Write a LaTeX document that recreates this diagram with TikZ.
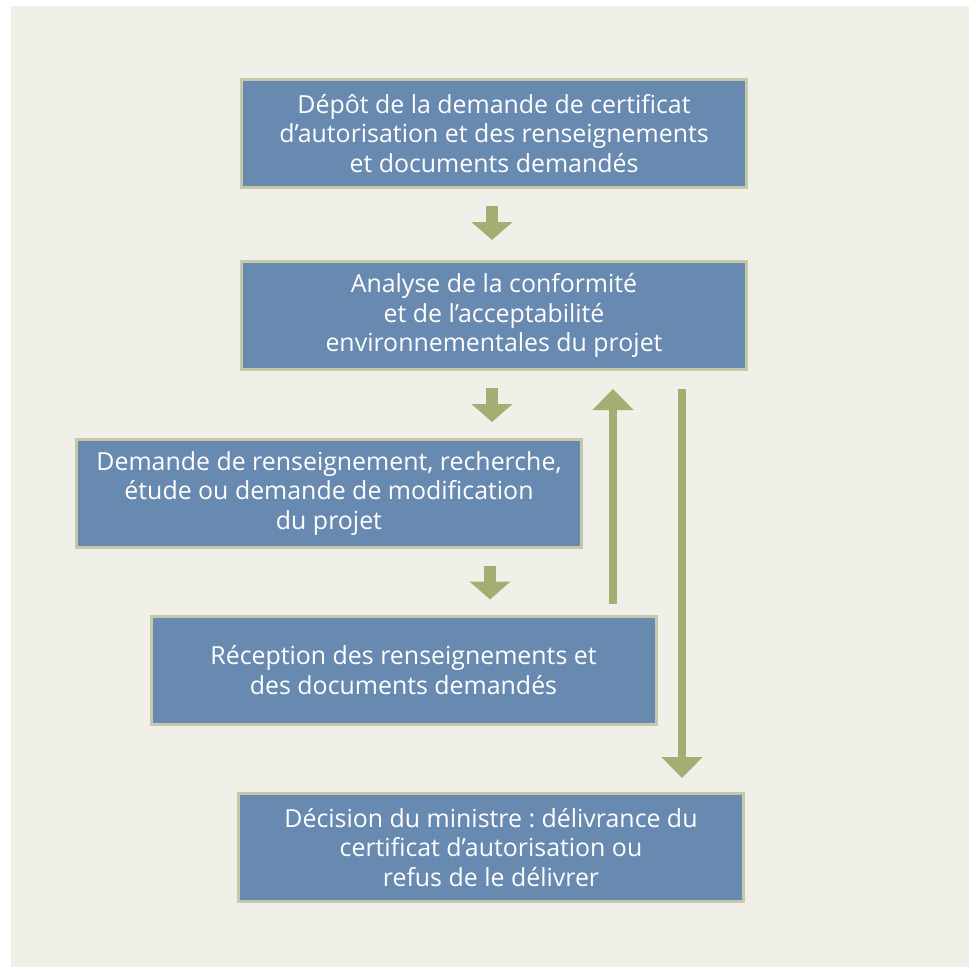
\documentclass[tikz,border=0pt]{standalone}
\usepackage{fontspec}
\setmainfont{Open Sans}
\usetikzlibrary{arrows.meta}
\frenchspacing
\definecolor{panel}{HTML}{F0F0E8}
\definecolor{boxfill}{HTML}{6889B0}
\definecolor{boxline}{HTML}{C6C9A9}
\definecolor{arrowc}{HTML}{A5AD72}
\tikzset{
  box/.style={draw=boxline, fill=boxfill, line width=3pt, minimum width=505pt, minimum height=108pt,
    text=white, align=center, font=\fontsize{24.9}{29.5}\selectfont\frenchspacing, inner sep=0pt},
  smallarrow/.style={draw=arrowc, line width=12pt, -{Triangle[width=40pt,length=18pt]}},
  longarrow/.style={draw=arrowc, line width=8pt, -{Triangle[width=40pt,length=21pt]}}
}
\begin{document}
\begin{tikzpicture}[x=1pt,y=-1pt]
\useasboundingbox (0,0) rectangle (969,967);
\fill[white] (0,0) rectangle (969,967);
\fill[panel] (11,6) rectangle (969,967);

\node[box] (b1) at (494,133.5) {Dépôt de la demande de certificat\\d’autorisation et des renseignements\\et documents demandés};
\node[box] (b2) at (494,315.5) {Analyse de la conformité\\et de l’acceptabilité\\environnementales du projet};
\node[box] (b3) at (329,493.5) {Demande de renseignement, recherche,\\étude ou demande de modification\\du projet};
\node[box] (b4) at (403.5,670) {Réception des renseignements et\\des documents demandés};
\node[box] (b5) at (491,847.5) {Décision du ministre : délivrance du\\certificat d’autorisation ou\\refus de le délivrer};

\coordinate (xa) at (492,0);
\coordinate (xc) at (490,0);
\coordinate (xu) at (613,0);
\coordinate (xd) at (682,0);

\draw[smallarrow] ([yshift=-17pt]b1.south -| xa) -- ([yshift=20pt]b2.north -| xa);
\draw[smallarrow] ([yshift=-17pt]b2.south -| xa) -- ([yshift=16pt]b3.north -| xa);
\draw[smallarrow] ([yshift=-17pt]b3.south -| xc) -- ([yshift=15pt]b4.north -| xc);
\draw[longarrow] ([yshift=11pt]b4.north -| xu) -- ([yshift=-18pt]b2.south -| xu);
\draw[longarrow] ([yshift=-18pt]b2.south -| xd) -- ([yshift=14pt]b5.north -| xd);
\end{tikzpicture}
\end{document}
